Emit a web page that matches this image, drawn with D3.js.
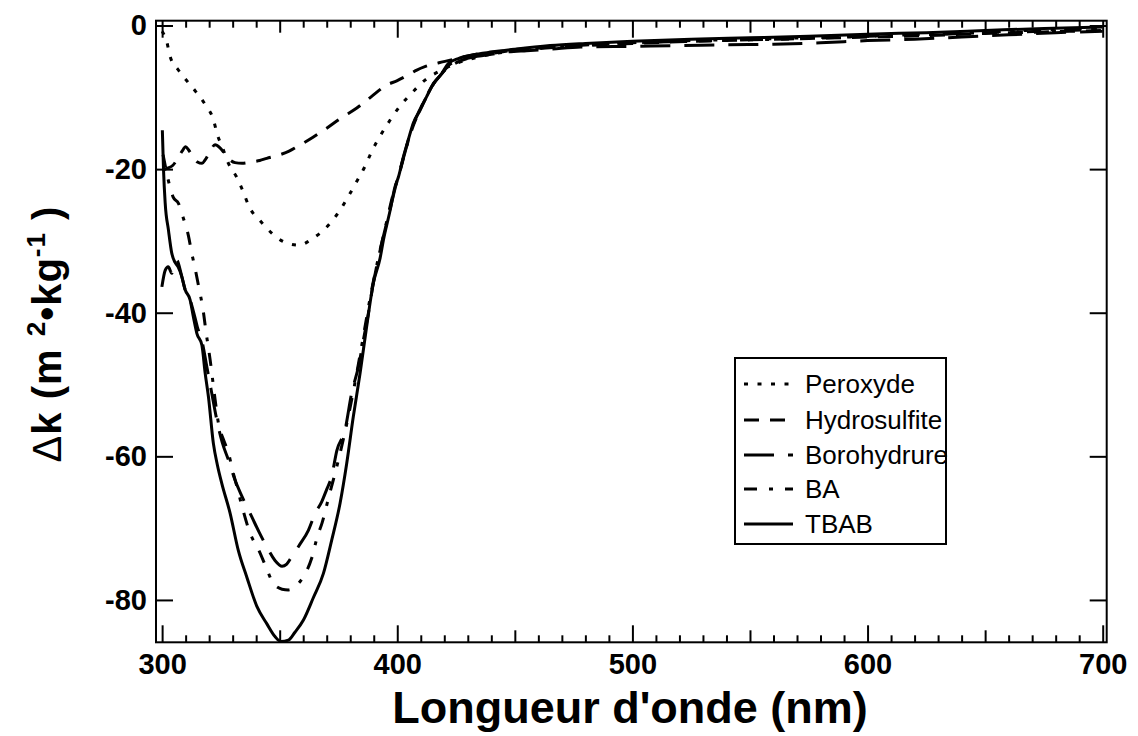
<!DOCTYPE html>
<html><head><meta charset="utf-8">
<script src="https://cdn.jsdelivr.net/npm/d3@7"></script>
<style>
html,body{margin:0;padding:0;background:#fff;}
svg{display:block;font-family:"Liberation Sans",Arial,Helvetica,sans-serif;}
</style></head>
<body><svg id="chart" width="1138" height="736"></svg>
<script>
// ---- data (wavelength nm, delta k) ----
const seriesNames = ["Peroxyde","Hydrosulfite","Borohydrure","BA","TBAB"];
const peroxyde = [[300,-0.8],[302,-2.3],[303.4,-4.3],[306.9,-6.2],[310.5,-7.7],[314.3,-9.2],[318.3,-11.0],[321.8,-13.1],[323.5,-15.2],[325.9,-17.2],[328.2,-19.2],[331.5,-21.0],[334.3,-23.0],[337.1,-25.3],[341.7,-27.2],[346.6,-28.9],[351.6,-30.1],[358.2,-30.6],[364.3,-29.6],[370.5,-27.9],[375.3,-25.9],[379.2,-23.8],[382.8,-21.7],[386.3,-19.6],[389.2,-17.5],[392.7,-15.4],[396.9,-13.2],[401.2,-11.2],[406.2,-9.4],[411.8,-7.6],[418.3,-6.3],[425,-5.3],[432,-4.6],[440,-4.0],[450,-3.5],[465,-3.0],[480,-2.7],[500,-2.4],[525,-2.1],[550,-1.9],[575,-1.7],[600,-1.5],[625,-1.2],[650,-0.9],[675,-0.6],[700,-0.4]];
const hydrosulfite = [[300.3,-20.2],[302,-19.9],[304.5,-19.5],[306.5,-18.6],[308.5,-17.5],[310,-16.9],[311.2,-17.3],[312.6,-18.0],[315,-19.0],[317,-19.2],[318.3,-18.7],[320.3,-17.6],[322.5,-16.6],[324.5,-17.0],[326.5,-17.8],[328.2,-18.5],[331,-19.1],[334,-19.2],[338,-19.0],[341.5,-18.8],[344.5,-18.5],[350,-18.0],[354,-17.5],[357.3,-16.9],[364,-15.6],[370,-14.3],[376,-12.9],[382.8,-11.5],[389,-9.9],[395.5,-8.3],[399.8,-7.7],[404,-7.0],[408.3,-6.2],[412,-5.7],[420.3,-5.0],[424,-4.7],[432,-4.1],[438,-3.8],[445,-3.6],[451,-3.3],[460,-3.2],[470,-3.0],[485,-2.7],[500,-2.5],[525,-2.2],[550,-2.0],[575,-1.8],[600,-1.6],[625,-1.4],[650,-1.1],[675,-0.9],[700,-0.7]];
const borohydrure = [[299.9,-36.4],[301.3,-34.1],[302.6,-33.6],[304.1,-34.5],[306.2,-32.7],[308.4,-35.0],[309.8,-36.8],[311.5,-37.8],[313.3,-39.8],[315,-42],[317,-44],[319,-47.5],[321,-51],[323,-54.5],[325.5,-58],[328.2,-60.5],[331,-63.3],[334,-65.6],[338.1,-68.4],[341.3,-70.6],[344.5,-72.6],[348,-74.5],[351,-75.3],[353,-75.0],[355.1,-74.0],[358.5,-72.3],[362.2,-70.3],[365,-68.0],[367.9,-66.3],[370,-64.6],[372.1,-62.8],[374.3,-59.2],[377.8,-56.3],[380.6,-51.2],[383.5,-47.5],[385.6,-43.8],[387.7,-40.1],[389.5,-36.5],[391.5,-33.1],[394,-29.5],[397,-25.5],[400,-21.5],[403,-18],[406,-14.5],[409.5,-11.8],[412.5,-9.9],[415.5,-8.1],[419,-6.7],[422,-5.5],[427,-4.8],[434,-4.3],[440,-4.0],[446.5,-3.7],[455,-3.5],[465,-3.3],[478,-3.0],[500,-2.9],[520,-2.8],[540,-2.7],[560,-2.6],[580,-2.4],[600,-2.1],[620,-1.9],[640,-1.6],[660,-1.3],[680,-1.0],[700,-0.8]];
const ba = [[300.4,-18.0],[301.5,-19.8],[302.6,-21.5],[304.7,-23.9],[307,-24.8],[309,-26.8],[311.2,-29.3],[312.6,-31.7],[314,-33.8],[315.4,-36.1],[317.6,-40.0],[318.6,-42.5],[320.4,-46.5],[322.5,-52.0],[324,-55.5],[326,-57.6],[328.2,-59.5],[330,-62],[331.8,-64.2],[334,-67.0],[337.4,-70.7],[341,-73.0],[343.8,-75.1],[347.3,-77.7],[351,-78.5],[353.7,-78.6],[357,-78.0],[360,-76.8],[363.6,-74.2],[366,-71.2],[368,-69.3],[371,-65.5],[375,-60.5],[379.9,-53.3],[383,-48],[386,-42.5],[389,-37],[392,-32.3],[395,-28],[398,-23.8],[401,-20.5],[404,-16.8],[407,-13.8],[410,-11.5],[413,-9.5],[416,-7.8],[420,-6.3],[425,-5.2],[432,-4.4],[440,-3.9],[450,-3.4],[465,-3.0],[480,-2.7],[500,-2.4],[525,-2.2],[550,-2.0],[575,-1.8],[600,-1.5],[625,-1.3],[650,-1.0],[675,-0.8],[700,-0.5]];
const tbab = [[300.1,-14.6],[300.6,-20.1],[301.3,-24.7],[302.7,-28.5],[304.1,-31.7],[305.5,-33.0],[306.8,-33.6],[308.4,-35.0],[309.8,-36.8],[311.9,-38.2],[313.3,-40.6],[314.8,-42.9],[316.9,-44.5],[318.3,-48.4],[319.7,-51.7],[321.8,-58.2],[323.5,-61.2],[325.4,-63.8],[328.9,-67.9],[332.4,-73.1],[336,-76.8],[340.3,-80.9],[344.5,-83.3],[348,-85.1],[350.5,-85.8],[353.7,-85.6],[356.5,-84.5],[360.1,-82.8],[364.3,-79.7],[368.6,-76.3],[372.1,-71.7],[375.7,-66.5],[378.5,-61.0],[381.3,-54.5],[384.2,-48.4],[387,-41.9],[389.8,-35.9],[392.7,-32.4],[394.1,-29.9],[397,-25.7],[399,-22.5],[400.5,-21.1],[402.6,-18.3],[404.7,-15.9],[406.8,-13.6],[409.7,-11.8],[412.5,-9.9],[415.4,-8.1],[418.9,-6.7],[421.7,-5.3],[426,-4.6],[432,-4.1],[440,-3.7],[450,-3.3],[465,-2.8],[480,-2.5],[500,-2.2],[525,-1.9],[550,-1.7],[575,-1.5],[600,-1.2],[625,-1.0],[650,-0.7],[675,-0.4],[700,-0.2]];
const seriesData = [peroxyde, hydrosulfite, borohydrure, ba, tbab];

const xTickValues = [300, 400, 500, 600, 700];
const xMidTicks = [350, 450, 550, 650];
const yTickValues = [0, -20, -40, -60, -80];
const xTitle = "Longueur d'onde (nm)";

// ---- styles ----
const dashes = ["4,9.5", "15,11", "30,14", "13,12,4,12", null];

const svg = d3.select("#chart");
const L = 156, R = 1106.7, T = 20.7, B = 642.3;
const x = d3.scaleLinear().domain([297.4, 701.7]).range([L, R]);
const y = d3.scaleLinear().domain([0.67, -85.9]).range([T, B]);

const minorTicks = d3.range(310, 700, 10).filter(v => v % 50 !== 0);

function axisGroup(axis, transform) {
  const g = svg.append("g").attr("transform", transform).call(axis);
  g.select(".domain").remove();
  g.selectAll(".tick line").attr("stroke", "#000").attr("stroke-width", 2);
  return g;
}
const tickFont = g => g.selectAll("text").attr("fill","#000").attr("font-size", 29).attr("font-weight","bold")
  .attr("font-family", '"Liberation Sans",Arial,sans-serif');

// bottom axis
const bMaj = axisGroup(d3.axisBottom(x).tickValues(xTickValues).tickSizeInner(-17).tickSizeOuter(0).tickPadding(11).tickFormat(d => String(d)), `translate(0,${B})`);
tickFont(bMaj);
axisGroup(d3.axisBottom(x).tickValues(xMidTicks).tickSizeInner(-12).tickSizeOuter(0).tickFormat(""), `translate(0,${B})`);
axisGroup(d3.axisBottom(x).tickValues(minorTicks).tickSizeInner(-7).tickSizeOuter(0).tickFormat(""), `translate(0,${B})`);
// top axis
axisGroup(d3.axisTop(x).tickValues(xTickValues).tickSizeInner(-17).tickSizeOuter(0).tickFormat(""), `translate(0,${T})`);
axisGroup(d3.axisTop(x).tickValues(xMidTicks).tickSizeInner(-12).tickSizeOuter(0).tickFormat(""), `translate(0,${T})`);
axisGroup(d3.axisTop(x).tickValues(minorTicks).tickSizeInner(-7).tickSizeOuter(0).tickFormat(""), `translate(0,${T})`);
// left / right
const lAx = axisGroup(d3.axisLeft(y).tickValues(yTickValues).tickSizeInner(-17).tickSizeOuter(0).tickPadding(9).tickFormat(d => String(d)), `translate(${L},0)`);
tickFont(lAx);
axisGroup(d3.axisRight(y).tickValues(yTickValues).tickSizeInner(-17).tickSizeOuter(0).tickFormat(""), `translate(${R},0)`);

// frame
svg.append("rect").attr("x", L).attr("y", T).attr("width", R - L).attr("height", B - T)
  .attr("fill", "none").attr("stroke", "#000").attr("stroke-width", 2);

// curves
const line = d3.line().x(d => x(d[0])).y(d => y(d[1])).curve(d3.curveMonotoneX);
const plot = svg.append("g");
seriesData.forEach((data, i) => {
  plot.append("path").datum(data).attr("d", line)
    .attr("fill", "none").attr("stroke", "#000").attr("stroke-width", 3)
    .attr("stroke-linejoin", "round")
    .attr("stroke-dasharray", dashes[i]);
});

// legend
const lg = svg.append("g");
lg.append("rect").attr("x", 735).attr("y", 358).attr("width", 211).attr("height", 186)
  .attr("fill", "#fff").attr("stroke", "#000").attr("stroke-width", 2);
const rowY = [384, 420, 455, 489, 524];
seriesNames.forEach((name, i) => {
  lg.append("line").attr("x1", 744).attr("x2", 793).attr("y1", rowY[i]).attr("y2", rowY[i])
    .attr("stroke", "#000").attr("stroke-width", 3).attr("stroke-dasharray", dashes[i]);
  lg.append("text").attr("x", 805).attr("y", rowY[i] + 9).attr("font-size", 26).text(name);
});

// axis titles
svg.append("text").attr("x", 630).attr("y", 723).attr("text-anchor", "middle")
  .attr("font-size", 45).attr("font-weight", "bold").text(xTitle);

const yt = svg.append("text").attr("transform", "translate(61,334) rotate(-90)")
  .attr("text-anchor", "middle").attr("font-size", 40).attr("font-weight", "bold")
  .attr("letter-spacing", 1);
yt.append("tspan").attr("font-weight", "normal").text("\u0394");
yt.append("tspan").text("k (m ");
yt.append("tspan").attr("font-size", 26).attr("dy", -16).text("2");
yt.append("tspan").attr("dy", 16).text("\u2022kg");
yt.append("tspan").attr("font-size", 26).attr("dy", -16).text("-1");
yt.append("tspan").attr("dy", 16).text(" )");
</script></body></html>
